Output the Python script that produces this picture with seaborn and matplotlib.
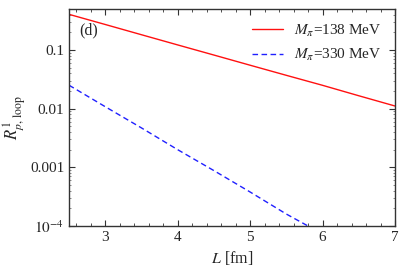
import numpy as np
import pandas as pd
import seaborn as sns
import matplotlib.pyplot as plt
from matplotlib.ticker import FixedLocator, FixedFormatter, MultipleLocator

# values
L_138 = [2.5, 3.0, 3.5, 4.0, 4.5, 5.0, 5.5, 6.0, 6.5, 7.0]
R_138 = [0.405, 0.272, 0.182, 0.122, 0.082, 0.055, 0.037, 0.025, 0.0166, 0.0111]

L_330 = [2.5, 3.0, 3.5, 4.0, 4.5, 5.0, 5.5, 5.8]
R_330 = [0.0251, 0.0108, 0.0047, 0.0020, 8.8e-4, 3.8e-4, 1.6e-4, 1.0e-4]

ytick_vals = [1e-4, 1e-3, 1e-2, 1e-1]
ytick_labels = ["$10^{-4}$", "0.001", "0.01", "0.1"]

sns.set_style("ticks")
plt.rcParams["font.family"] = ["Liberation Serif", "DejaVu Serif"]
plt.rcParams["mathtext.fontset"] = "stix"

df1 = pd.DataFrame({"L": L_138, "R": R_138})
df2 = pd.DataFrame({"L": L_330, "R": R_330})

fig = plt.figure(figsize=(3.99, 2.72), dpi=100)
ax = fig.add_axes([0.173, 0.169, 0.817, 0.798])

sns.lineplot(data=df1, x="L", y="R", ax=ax, color="#ff1010", lw=1.0,
             label=r"$M_\pi$=138 MeV")
sns.lineplot(data=df2, x="L", y="R", ax=ax, color="#2020ff", lw=1.0,
             dashes=False, label=r"$M_\pi$=330 MeV")
ax.lines[1].set_dashes((4, 2.5))

ax.set_yscale("log")
ax.set_xlim(2.5, 7)
ax.set_ylim(1e-4, 0.5)
ax.yaxis.set_major_locator(FixedLocator(ytick_vals))
ax.yaxis.set_major_formatter(FixedFormatter(ytick_labels))
ax.xaxis.set_major_locator(MultipleLocator(1))
ax.xaxis.set_minor_locator(MultipleLocator(0.2))

ax.tick_params(which="both", direction="in", top=True, right=True,
               labelsize=11, color="#333333")
ax.tick_params(which="major", length=4, width=0.8)
ax.tick_params(which="minor", length=2, width=0.6)
ax.tick_params(axis="y", which="minor", length=1.5, width=0.4)
for s in ax.spines.values():
    s.set_linewidth(1.0)
    s.set_color("#333333")

ax.set_xlabel("$L$ [fm]", fontsize=11.5)
ax.set_ylabel(r"$R^{1}_{p,\,\mathrm{loop}}$", fontsize=12, labelpad=1)
ax.text(0.03, 0.9, "(d)", transform=ax.transAxes, fontsize=11.5, va="center")

ax.legend(loc="upper right", frameon=False, fontsize=11, handlelength=2.0,
          handletextpad=0.7, labelspacing=0.55, borderaxespad=0.5)

fig.savefig("out.png", dpi=100)
